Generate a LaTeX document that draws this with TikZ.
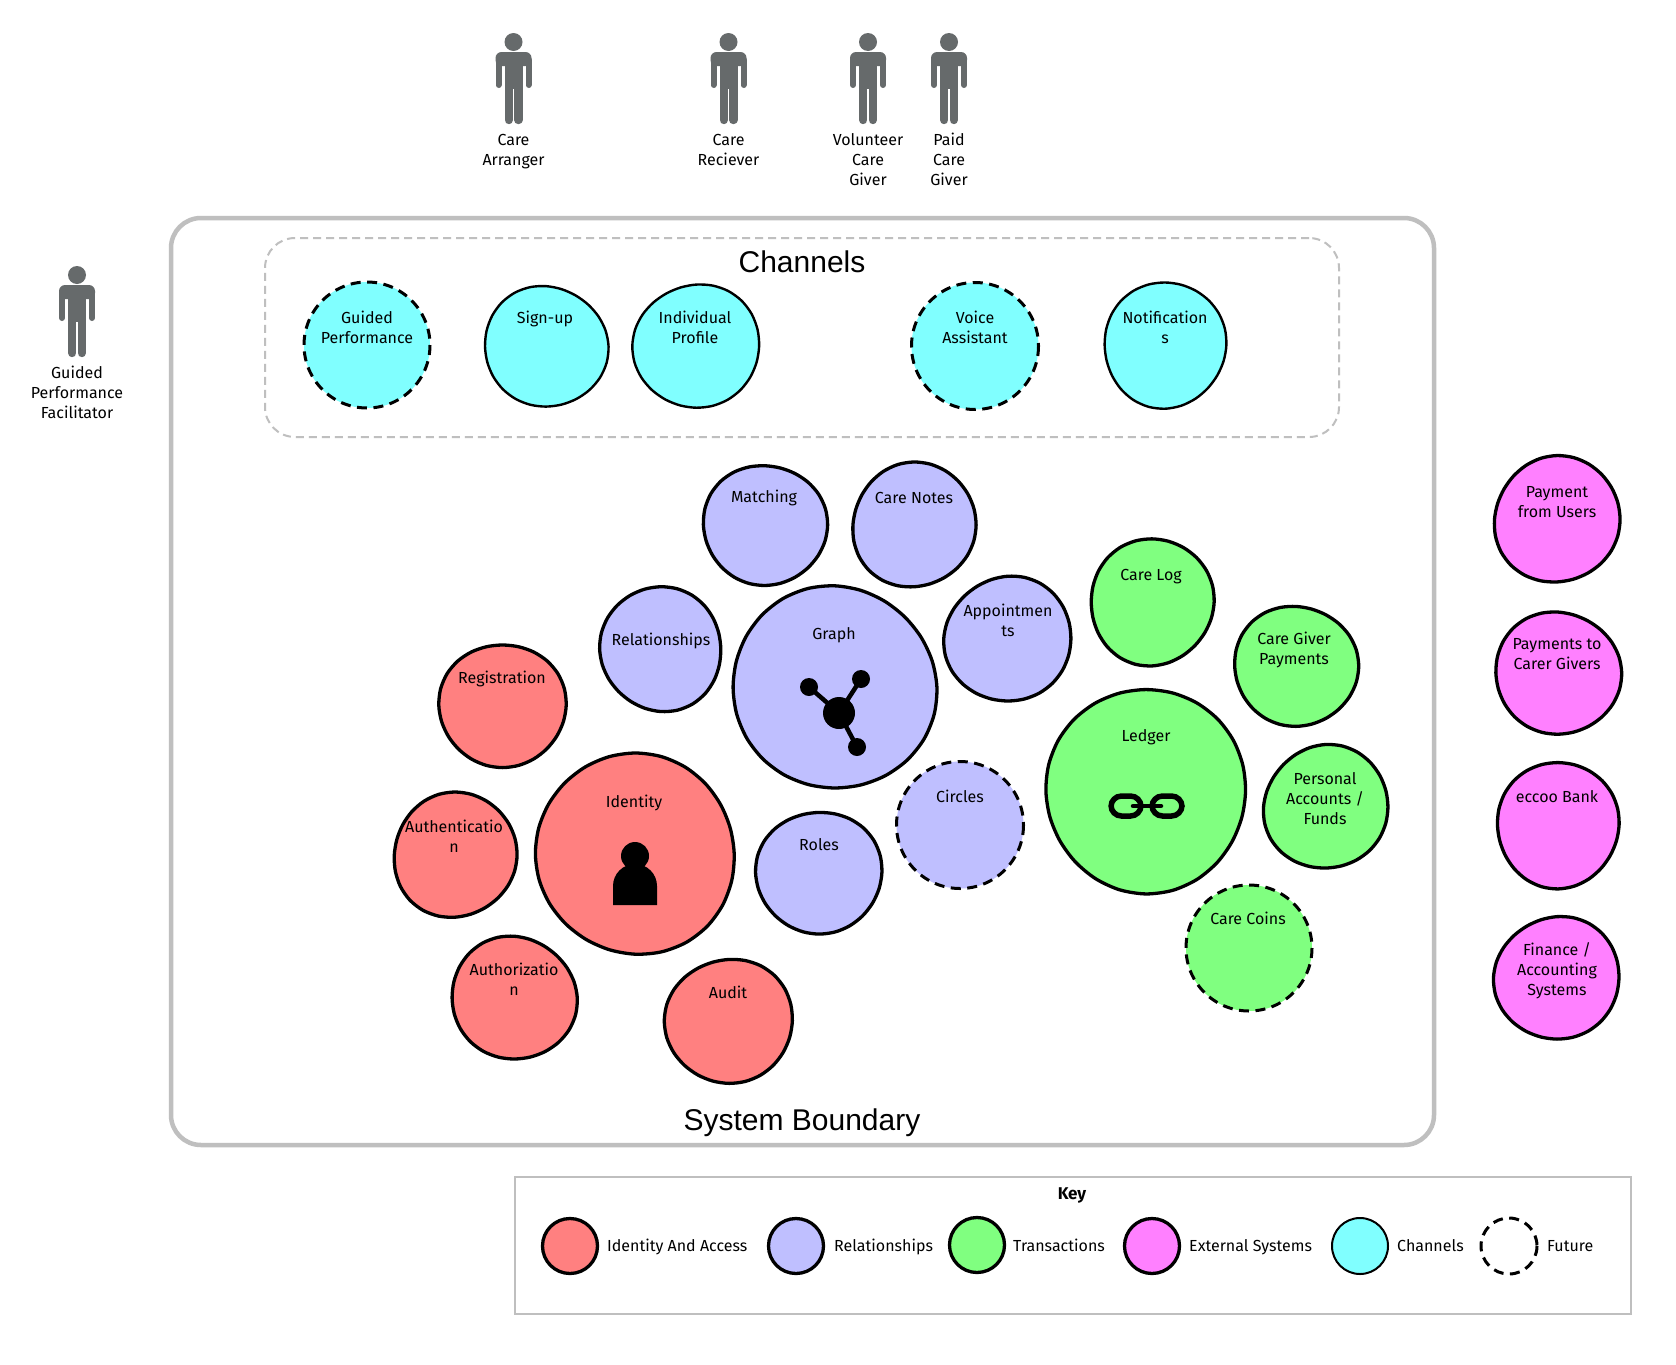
\documentclass[tikz,border=0pt]{standalone}
\usepackage{fontspec}
\setmainfont{Fira Sans}
\newfontfamily\titlefont{Liberation Sans}
\definecolor{cred}{HTML}{FF8080}
\definecolor{clav}{HTML}{BFBFFF}
\definecolor{cgrn}{HTML}{80FF80}
\definecolor{cmag}{HTML}{FF80FF}
\definecolor{ccya}{HTML}{80FFFF}
\definecolor{cgry}{HTML}{BFBFBF}
\definecolor{cper}{HTML}{666A6B}
\newcommand\bubw{3.3pt}
\tikzset{
  bubnode/.style={circle,inner sep=0pt,outer sep=0pt},
  lbl/.style={inner sep=0pt,align=center,font=\fontsize{16}{20}\selectfont,text=black},
  bubline/.style={draw=black,line width=\bubw,line join=round},
  futline/.style={draw=black,line width=3pt,dash pattern=on 10pt off 6.5pt},
  title/.style={inner sep=0pt,font=\titlefont\fontsize{30}{32}\selectfont},
  perlbl/.style={inner sep=0pt,align=center,font=\fontsize{16}{20}\selectfont,anchor=north},
  keylbl/.style={inner sep=0pt,anchor=base west,font=\fontsize{16}{20}\selectfont},
}
% name, x, y, r, colour, phase, text x, first-line y, text
\newcommand\bub[9]{%
  \node[bubnode,minimum size=#4*2pt] (#1) at (#2,#3) {};
  \draw[bubline,fill=#5] plot[smooth cycle,samples=24,domain=0:345,variable=\t]
    ({#2+(#4-1+1.2*sin(2*\t+#6)+0.8*sin(3*\t+2*#6))*cos(\t)},
     {#3+(#4-1+1.2*sin(2*\t+#6)+0.8*sin(3*\t+2*#6))*sin(\t)});
  \node[lbl,anchor=north] (#1t) at (#7,#8-8) {\rule{0pt}{14pt}#9};
}
\newcommand\dbub[8]{%
  \node[bubnode,minimum size=#4*2pt,fill=#5] (#1) at (#2,#3) {};
  \draw[futline] (#2,#3) circle[radius=#4];
  \node[lbl,anchor=north] (#1t) at (#6,#7-8) {\rule{0pt}{14pt}#8};
}
% name, head x, head y, first-line y, text
\newcommand\person[5]{%
  \begin{scope}[shift={(#2,#3)},fill=cper]
    \node[circle,fill=cper,inner sep=0pt,minimum size=18pt] (#1) at (0,0) {};
    \fill[rounded corners=6pt] (-18,24) -- (-18,10) -- (18,10) -- (18,24) -- cycle;
    \fill (-9,16) rectangle (9,47);
    \draw[cper,line width=6pt,line cap=round] (-15,18) -- (-15,43);
    \draw[cper,line width=6pt,line cap=round] (15,18) -- (15,43);
    \draw[cper,line width=8.4pt,line cap=round] (-4.8,44) -- (-4.8,78);
    \draw[cper,line width=8.4pt,line cap=round] (4.8,44) -- (4.8,78);
  \end{scope}
  \node[perlbl] (#1t) at (#2,#4-8) {\rule{0pt}{14pt}#5};
}
\begin{document}
\begin{tikzpicture}[x=1pt,y=-1pt]
\useasboundingbox (0,0) rectangle (1676,1365);
\fill[white] (0,0) rectangle (1676,1365);

% actors
\person{parr}{513.5}{42}{139}{Care\\Arranger}
\person{prec}{728.5}{42}{139}{Care\\Reciever}
\person{pvol}{868}{42}{139}{Volunteer\\Care\\Giver}
\person{ppaid}{949}{42}{139}{Paid\\Care\\Giver}
\person{pgpf}{77}{275}{372}{Guided\\Performance\\Facilitator}

% boundaries
\node[draw=cgry,line width=4.5pt,rounded corners=30pt,inner sep=0pt,minimum width=1263pt,minimum height=927pt] (sys) at (802.5,681.5) {};
\node[draw=cgry,line width=2pt,dash pattern=on 8pt off 5pt,rounded corners=30pt,inner sep=0pt,minimum width=1074pt,minimum height=199pt] (chan) at (802,337.5) {};
\node[title] (chant) at (802,262) {Channels};
\node[title] (syst) at (802,1122.5) {System Boundary};

% channels
\renewcommand\bubw{2.4pt}
\dbub{gp}{367}{345}{63}{ccya}{367}{317}{Guided\\Performance}
\bub{su}{546}{346.5}{62}{ccya}{40}{545}{317}{Sign-up}
\bub{ip}{696.5}{346}{63.5}{ccya}{130}{695}{317}{Individual\\Profile}
\dbub{va}{975}{346}{63.5}{ccya}{975}{317}{Voice\\Assistant}
\bub{no}{1165}{345}{63}{ccya}{250}{1165}{317}{Notification\\s}
\renewcommand\bubw{3.3pt}

% relationships
\bub{ma}{765}{525}{62}{clav}{70}{764}{496}{Matching}
\bub{cn}{914}{525}{63}{clav}{200}{914}{497}{Care Notes}
\bub{re}{661}{649}{62.5}{clav}{310}{661}{639}{Relationships}
\bub{gr}{834.5}{687.5}{102.5}{clav}{20}{834}{633}{Graph}
\bub{ap}{1008}{639}{64}{clav}{150}{1008}{610}{Appointmen\\ts}
\dbub{ci}{960}{825}{63.5}{clav}{960}{796}{Circles}
\bub{ro}{819}{872.5}{63}{clav}{100}{819}{844}{Roles}

% transactions
\bub{cl}{1152}{602}{63.5}{cgrn}{240}{1151}{574}{Care Log}
\bub{cg}{1296}{666}{62}{cgrn}{60}{1294}{638}{Care Giver\\Payments}
\bub{le}{1146}{791}{102}{cgrn}{280}{1146}{735}{Ledger}
\bub{pa}{1326}{807}{63}{cgrn}{170}{1325}{778}{Personal\\Accounts /\\Funds}
\dbub{cc}{1249}{948}{63}{cgrn}{1248}{918}{Care Coins}

% identity
\bub{rg}{502.5}{705.5}{63.5}{cred}{90}{502}{677}{Registration}
\bub{au}{455}{855}{63}{cred}{210}{454}{826}{Authenticatio\\n}
\bub{id}{635.5}{854}{101}{cred}{330}{634}{801}{Identity}
\bub{az}{514}{998}{63}{cred}{30}{514}{969}{Authorizatio\\n}
\bub{ad}{729}{1021}{64}{cred}{120}{728}{992}{Audit}

% external
\bub{pu}{1557}{519.5}{64}{cmag}{190}{1557}{491}{Payment\\from Users}
\bub{pc}{1558}{673}{63}{cmag}{50}{1557}{643}{Payments to\\Carer Givers}
\bub{ec}{1558}{825}{63}{cmag}{260}{1557}{796}{eccoo Bank}
\bub{fi}{1557}{978}{63}{cmag}{140}{1557}{949}{Finance /\\Accounting\\Systems}

% identity icon
\fill[black] (613,905) -- (613,886) arc[start angle=180,end angle=360,x radius=22,y radius=22] -- (657,905) -- cycle;
\fill[black] (635,856) circle[radius=14];
% graph icon
\draw[black,line width=4.5pt] (839,713) -- (809,687);
\draw[black,line width=4.5pt] (839,713) -- (861,679);
\draw[black,line width=4.5pt] (839,713) -- (857,747);
\fill[black] (839,713) circle[radius=16];
\fill[black] (809,687) circle[radius=9];
\fill[black] (861,679) circle[radius=9];
\fill[black] (857,747) circle[radius=9];
% ledger icon
\draw[black,line width=5.5pt,rounded corners=10.5pt] (1111,796) rectangle (1141,816);
\draw[black,line width=5.5pt,rounded corners=10.5pt] (1152,796) rectangle (1182,816);
\draw[black,line width=4.5pt,line cap=round] (1133,806) -- (1161,806);

% key
\node[draw=cgry,line width=1.5pt,inner sep=0pt,minimum width=1116pt,minimum height=137pt] (keybox) at (1073,1245.5) {};
\node[inner sep=0pt,font=\bfseries\fontsize{17}{20}\selectfont] (keyt) at (1072,1195) {Key};
\node[bubnode,minimum size=56pt] (k1) at (570,1246) {};
\draw[bubline,fill=cred] (k1.center) circle[radius=27.5];
\node[keylbl] (k1t) at (607,1251.5) {Identity And Access};
\node[bubnode,minimum size=56pt] (k2) at (796,1246) {};
\draw[bubline,fill=clav] (k2.center) circle[radius=27.5];
\node[keylbl] (k2t) at (834,1251.5) {Relationships};
\node[bubnode,minimum size=56pt] (k3) at (977,1245) {};
\draw[bubline,fill=cgrn] (k3.center) circle[radius=27.5];
\node[keylbl] (k3t) at (1013,1251.5) {Transactions};
\node[bubnode,minimum size=56pt] (k4) at (1152,1246) {};
\draw[bubline,fill=cmag] (k4.center) circle[radius=27.5];
\node[keylbl] (k4t) at (1189,1251.5) {External Systems};
\node[bubnode,minimum size=56pt] (k5) at (1360,1246) {};
\draw[line width=2pt,fill=ccya] (k5.center) circle[radius=28];
\node[keylbl] (k5t) at (1397,1251.5) {Channels};
\node[bubnode,minimum size=56pt] (k6) at (1509,1246) {};
\draw[futline] (k6.center) circle[radius=28];
\node[keylbl] (k6t) at (1547,1251.5) {Future};
\end{tikzpicture}
\end{document}
